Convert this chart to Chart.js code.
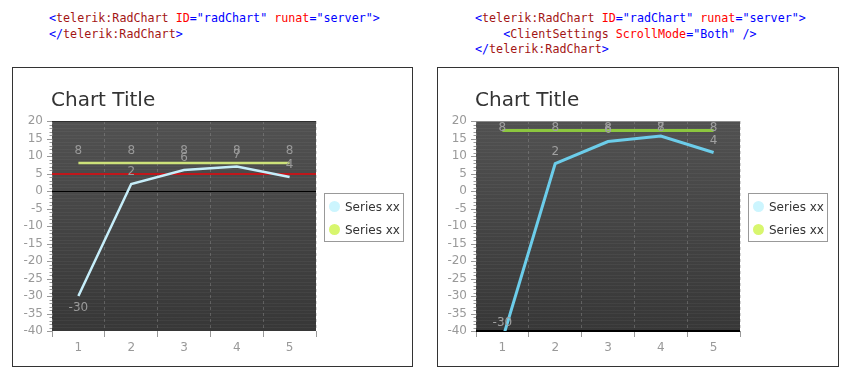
<!DOCTYPE html>
<html>
<head>
<meta charset="utf-8">
<script src="https://cdn.jsdelivr.net/npm/chart.js@4/dist/chart.umd.min.js"></script>
<style>
  body { margin: 0; background: #fff; width: 851px; height: 378px; position: relative; overflow: hidden; font-family: "DejaVu Sans", Verdana, sans-serif; }
  .code { position: absolute; top: 11px; font: 11.7px/15.5px "DejaVu Sans Mono", monospace; white-space: pre; color: #0000ff; }
  .code .t { color: #a31515; }
  .code .a { color: #ff0000; }
  .box { position: absolute; top: 67px; height: 300px; box-sizing: border-box; border: 1px solid #333; }
  .box canvas { position: absolute; left: 0; top: 0; }
  .title { position: absolute; top: 89px; font-size: 20px; line-height: 20px; color: #333; }
  .legend { position: absolute; top: 193px; width: 80px; height: 49px; box-sizing: border-box; border: 1px solid #999; }
  .legend div { position: absolute; left: 0; height: 16px; line-height: 16px; font-size: 12px; color: #333; padding-left: 20px; }
  .legend span { position: absolute; left: 4px; top: 2px; width: 11px; height: 11px; border-radius: 50%; }
</style>
</head>
<body>

<div class="code" style="left:49px">&lt;<span class="t">telerik:RadChart</span> <span class="a">ID</span>="radChart" <span class="a">runat</span>="server"&gt;
&lt;/<span class="t">telerik:RadChart</span>&gt;</div>
<div class="code" style="left:475px">&lt;<span class="t">telerik:RadChart</span> <span class="a">ID</span>="radChart" <span class="a">runat</span>="server"&gt;
    &lt;<span class="t">ClientSettings</span> <span class="a">ScrollMode</span>="Both" /&gt;
&lt;/<span class="t">telerik:RadChart</span>&gt;</div>

<div class="box" style="left:12px;width:401px"><canvas id="leftChart" width="399" height="298"></canvas></div>
<div class="box" style="left:437px;width:402px"><canvas id="rightChart" width="400" height="298"></canvas></div>

<div class="title" style="left:51px">Chart Title</div>
<div class="title" style="left:475px">Chart Title</div>

<div class="legend" style="left:324px" id="leftLegend"></div>
<div class="legend" style="left:748px" id="rightLegend"></div>

<script>
// data
const categories = ["1", "2", "3", "4", "5"];
const seriesA = [-30, 2, 6, 7, 4];
const seriesB = [8, 8, 8, 8, 8];
const seriesNames = ["Series xx", "Series xx"];
const legendColors = ["#ccf5fe", "#d8f66e"];
const yMin = -40, yMax = 20, yMajorStep = 5;
const markerValue = 5;            // red marker line on the left chart
const rightDrawnRange = [-28.45, 9.73]; // range the right chart really plots the series on

const tickFont = { family: "DejaVu Sans", size: 12 };

const plotBg = {
  id: "plotBg",
  beforeDraw(chart) {
    const { ctx, chartArea: { left, top, right, bottom } } = chart;
    const g = ctx.createLinearGradient(0, top, 0, bottom);
    g.addColorStop(0, "#515151");
    g.addColorStop(1, "#373737");
    ctx.save();
    ctx.fillStyle = g;
    ctx.fillRect(left, top, right - left, bottom - top);
    ctx.restore();
  }
};

const refLines = {
  id: "refLines",
  beforeDatasetsDraw(chart, args, o) {
    const { ctx, chartArea: { left, top, right } } = chart;
    const y = chart.scales.y;
    ctx.save();
    ctx.strokeStyle = o.frameTop;
    ctx.lineWidth = 1;
    ctx.beginPath(); ctx.moveTo(left, top + 0.5); ctx.lineTo(right, top + 0.5); ctx.stroke();
    (o.lines || []).forEach(l => {
      const py = Math.round(y.getPixelForValue(l.value)) + (l.width % 2 ? 0.5 : 0);
      ctx.strokeStyle = l.color;
      ctx.lineWidth = l.width;
      ctx.beginPath(); ctx.moveTo(left, py); ctx.lineTo(right, py); ctx.stroke();
    });
    ctx.restore();
  }
};

const yTicks = {
  id: "yTicks",
  afterDraw(chart) {
    const { ctx, chartArea: { left } } = chart;
    const y = chart.scales.y;
    ctx.save();
    ctx.strokeStyle = "#999";
    ctx.lineWidth = 1;
    y.ticks.forEach(t => {
      const len = t.value % yMajorStep === 0 ? 5 : 2.5;
      const py = Math.round(y.getPixelForValue(t.value)) + 0.5;
      ctx.beginPath(); ctx.moveTo(left - len, py); ctx.lineTo(left, py); ctx.stroke();
    });
    ctx.restore();
  }
};

const valueLabels = {
  id: "valueLabels",
  afterDatasetsDraw(chart, args, o) {
    const { ctx, chartArea: { top, bottom } } = chart;
    ctx.save();
    ctx.font = "12px 'DejaVu Sans'";
    ctx.fillStyle = o.color;
    ctx.textAlign = "center";
    ctx.textBaseline = "middle";
    chart.data.datasets.forEach((ds, di) => {
      chart.getDatasetMeta(di).data.forEach((pt, i) => {
        const v = ds.data[i];
        let ly = v >= 0 ? pt.y - 12 : pt.y + 12;
        ly = Math.min(Math.max(ly, top + 7), bottom - 8);
        ctx.fillText(String(v), pt.x, ly);
      });
    });
    ctx.restore();
  }
};

function buildChart(id, cfg) {
  const scales = {
    x: {
      offset: true,
      afterFit: s => { s.height = 35; },
      border: { display: false, dash: [3, 3] },
      grid: { offset: true, color: "rgba(150,150,150,0.4)", tickColor: "#999", tickLength: 6 },
      ticks: { color: "#999", padding: 4, font: tickFont }
    },
    y: {
      min: yMin, max: yMax,
      afterFit: s => { s.width = cfg.yWidth; },
      border: { display: false },
      grid: { color: "rgba(255,255,255,0.045)", drawTicks: false },
      ticks: {
        stepSize: 1, autoSkip: false, padding: 9, color: "#999", font: tickFont,
        callback: v => (v % yMajorStep === 0 ? v : "")
      }
    }
  };
  if (cfg.seriesAxis !== "y") {
    scales[cfg.seriesAxis] = { display: false, min: rightDrawnRange[0], max: rightDrawnRange[1] };
  }
  return new Chart(document.getElementById(id), {
    type: "line",
    data: {
      labels: categories,
      datasets: [
        { label: seriesNames[0], data: seriesA, borderColor: cfg.colors[0], borderWidth: cfg.lineWidth, pointRadius: 0, tension: 0, yAxisID: cfg.seriesAxis },
        { label: seriesNames[1], data: seriesB, borderColor: cfg.colors[1], borderWidth: cfg.lineWidth, pointRadius: 0, tension: 0, yAxisID: cfg.seriesAxis }
      ]
    },
    options: {
      responsive: false,
      animation: false,
      layout: { padding: { top: 53, right: cfg.rightPad, left: 0, bottom: 0 } },
      scales,
      plugins: {
        legend: { display: false },
        tooltip: { enabled: false },
        refLines: { frameTop: cfg.frameTop, lines: cfg.lines },
        valueLabels: { color: cfg.labelColor }
      }
    },
    plugins: [plotBg, refLines, yTicks, valueLabels]
  });
}

function buildLegend(id) {
  const el = document.getElementById(id);
  seriesNames.forEach((name, i) => {
    const row = document.createElement("div");
    row.style.top = (5 + i * 23) + "px";
    row.innerHTML = `<span style="background:${legendColors[i]}"></span>${name}`;
    el.appendChild(row);
  });
}

buildChart("leftChart", {
  yWidth: 39, rightPad: 96, seriesAxis: "y",
  colors: ["#c6eefa", "#cde27a"], lineWidth: 2.5,
  frameTop: "#2e2e2e", labelColor: "#9a9a9a",
  lines: [{ value: 0, color: "#000", width: 1 }, { value: markerValue, color: "#c0171b", width: 2 }]
});
buildChart("rightChart", {
  yWidth: 38, rightPad: 98, seriesAxis: "y2",
  colors: ["#6ccdea", "#8cc63f"], lineWidth: 3,
  frameTop: "#8a8a8a", labelColor: "#a0a0a0",
  lines: [{ value: yMin, color: "#000", width: 2 }]
});
buildLegend("leftLegend");
buildLegend("rightLegend");
</script>
</body>
</html>
